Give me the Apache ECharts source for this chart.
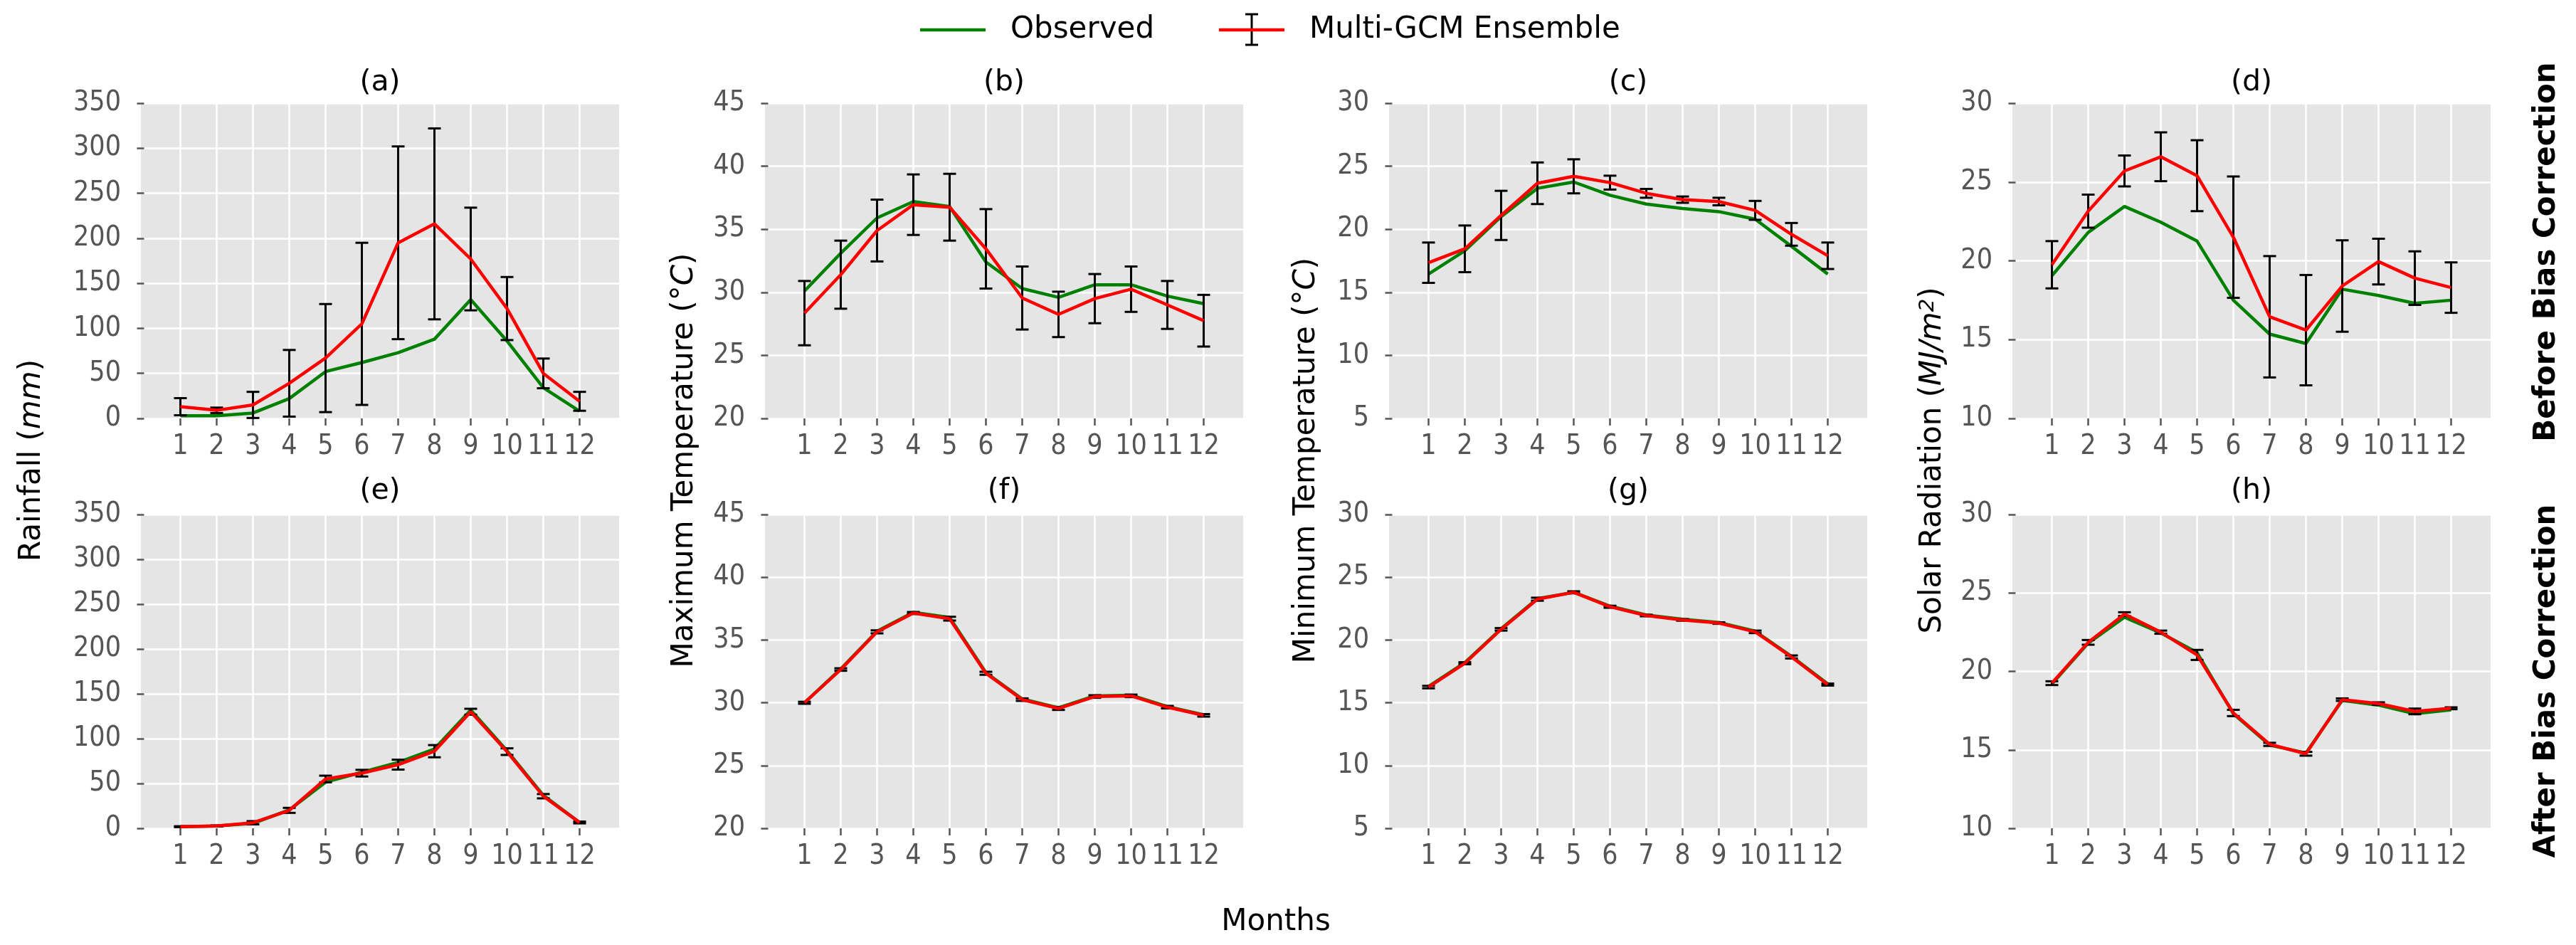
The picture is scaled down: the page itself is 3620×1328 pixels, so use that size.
<!DOCTYPE html>
<html>
<head>
<meta charset="utf-8">
<script src="https://cdn.jsdelivr.net/npm/echarts@6.0.0/dist/echarts.min.js"></script>
<style>
html,body{margin:0;padding:0;background:#ffffff;}
#chart{width:3620px;height:1328px;}
</style>
</head>
<body>
<div id="chart"></div>
<script>
// ---------------- data ----------------
const months = [1, 2, 3, 4, 5, 6, 7, 8, 9, 10, 11, 12];
const monthLabels = ['1', '2', '3', '4', '5', '6', '7', '8', '9', '10', '11', '12'];

// (a) Rainfall, before bias correction
const rainObsBefore = [3, 3, 6, 22, 52, 62, 73, 88, 132, 86, 34, 8];
const rainEnsBefore = [13, 9, 15, 39, 67, 105, 195, 216, 177, 122, 50, 19];
const rainSdBefore  = [9.5, 3, 14.5, 37, 60, 90, 107, 106, 57, 35, 16.5, 10.5];
// (b) Maximum temperature, before
const tmaxObsBefore = [30.1, 33.1, 35.9, 37.2, 36.8, 32.4, 30.3, 29.6, 30.6, 30.6, 29.7, 29.1];
const tmaxEnsBefore = [28.35, 31.4, 34.9, 36.95, 36.75, 33.45, 29.55, 28.25, 29.5, 30.25, 29.0, 27.75];
const tmaxSdBefore  = [2.55, 2.7, 2.45, 2.4, 2.65, 3.15, 2.5, 1.8, 1.95, 1.8, 1.9, 2.05];
// (c) Minimum temperature, before
const tminObsBefore = [16.45, 18.3, 21.0, 23.25, 23.75, 22.7, 22.0, 21.65, 21.4, 20.8, 18.65, 16.45];
const tminEnsBefore = [17.35, 18.45, 21.1, 23.65, 24.2, 23.7, 22.85, 22.35, 22.2, 21.5, 19.6, 17.9];
const tminSdBefore  = [1.6, 1.85, 1.95, 1.65, 1.35, 0.55, 0.35, 0.25, 0.3, 0.75, 0.9, 1.05];
// (d) Solar radiation, before
const solObsBefore = [19.05, 21.8, 23.45, 22.45, 21.25, 17.5, 15.35, 14.75, 18.2, 17.8, 17.3, 17.5];
const solEnsBefore = [19.75, 23.15, 25.7, 26.6, 25.4, 21.5, 16.45, 15.6, 18.4, 19.95, 18.9, 18.3];
const solSdBefore  = [1.5, 1.05, 0.98, 1.55, 2.25, 3.85, 3.85, 3.5, 2.9, 1.45, 1.7, 1.6];
// (e) Rainfall, after
const rainObsAfter = [1.8, 2.6, 5.5, 20.5, 51.5, 62.5, 73.5, 88.5, 132, 86.5, 36.8, 6.6];
const rainEnsAfter = [1.8, 2.6, 6.2, 20, 55, 61.5, 71, 86, 130, 85.5, 35.8, 6.5];
const rainSdAfter  = [0.5, 0.6, 1.8, 2.8, 3.7, 3.7, 5.5, 6.8, 3.3, 3.7, 2.4, 1.0];
// (f) Maximum temperature, after
const tmaxObsAfter = [30.0, 32.7, 35.7, 37.2, 36.8, 32.4, 30.3, 29.6, 30.55, 30.6, 29.7, 29.05];
const tmaxEnsAfter = [30.0, 32.65, 35.65, 37.15, 36.7, 32.35, 30.25, 29.55, 30.5, 30.55, 29.65, 29.0];
const tmaxSdAfter  = [0.08, 0.1, 0.12, 0.08, 0.15, 0.12, 0.1, 0.12, 0.1, 0.1, 0.1, 0.1];
// (g) Minimum temperature, after
const tminObsAfter = [16.3, 18.2, 20.9, 23.3, 23.8, 22.7, 22.0, 21.65, 21.4, 20.7, 18.7, 16.5];
const tminEnsAfter = [16.25, 18.15, 20.85, 23.25, 23.8, 22.65, 21.95, 21.6, 21.35, 20.65, 18.65, 16.45];
const tminSdAfter  = [0.1, 0.08, 0.1, 0.12, 0.08, 0.08, 0.06, 0.06, 0.06, 0.1, 0.12, 0.08];
// (h) Solar radiation, after
const solObsAfter = [19.2, 21.8, 23.45, 22.45, 21.2, 17.3, 15.3, 14.8, 18.15, 17.85, 17.3, 17.55];
const solEnsAfter = [19.25, 21.85, 23.65, 22.5, 21.05, 17.35, 15.35, 14.75, 18.2, 17.95, 17.45, 17.65];
const solSdAfter  = [0.12, 0.15, 0.12, 0.1, 0.32, 0.2, 0.1, 0.12, 0.08, 0.08, 0.18, 0.06];

// axis ranges / tick steps
const rainTicks = [0, 350, 50];
const tmaxTicks = [20, 45, 5];
const tminTicks = [5, 30, 5];
const solTicks  = [10, 30, 5];

const panelTitles = ['(a)', '(b)', '(c)', '(d)', '(e)', '(f)', '(g)', '(h)'];
const legendNames = ['Observed', 'Multi-GCM Ensemble'];

// ---------------- layout ----------------
const panels = [
  {obs: rainObsBefore, ens: rainEnsBefore, sd: rainSdBefore, ticks: rainTicks, col: 0, row: 0},
  {obs: tmaxObsBefore, ens: tmaxEnsBefore, sd: tmaxSdBefore, ticks: tmaxTicks, col: 1, row: 0},
  {obs: tminObsBefore, ens: tminEnsBefore, sd: tminSdBefore, ticks: tminTicks, col: 2, row: 0},
  {obs: solObsBefore,  ens: solEnsBefore,  sd: solSdBefore,  ticks: solTicks,  col: 3, row: 0},
  {obs: rainObsAfter,  ens: rainEnsAfter,  sd: rainSdAfter,  ticks: rainTicks, col: 0, row: 1},
  {obs: tmaxObsAfter,  ens: tmaxEnsAfter,  sd: tmaxSdAfter,  ticks: tmaxTicks, col: 1, row: 1},
  {obs: tminObsAfter,  ens: tminEnsAfter,  sd: tminSdAfter,  ticks: tminTicks, col: 2, row: 1},
  {obs: solObsAfter,   ens: solEnsAfter,   sd: solSdAfter,   ticks: solTicks,  col: 3, row: 1}
];
const gridLefts = [198, 1075, 1952, 2828];
const gridTops = [145, 723];
const gridHeights = [443, 441];
const gridW = 672;
const titleY = [116, 690];

const tickFont = "'DejaVu Sans Condensed', 'DejaVu Sans', sans-serif";
const mainFont = "'DejaVu Sans', sans-serif";
const GREEN = '#008000', RED = '#FF0000';

function renderErr(params, api) {
  const x = api.value(0), lo = api.value(1), hi = api.value(2);
  const a = api.coord([x, lo]), b = api.coord([x, hi]);
  const cw = 9;
  const st = {stroke: '#000000', lineWidth: 3};
  return {
    type: 'group',
    children: [
      {type: 'line', shape: {x1: a[0], y1: a[1], x2: b[0], y2: b[1]}, style: st},
      {type: 'line', shape: {x1: a[0] - cw, y1: a[1], x2: a[0] + cw, y2: a[1]}, style: st},
      {type: 'line', shape: {x1: b[0] - cw, y1: b[1], x2: b[0] + cw, y2: b[1]}, style: st}
    ]
  };
}

const grids = [], xAxes = [], yAxes = [], series = [];
panels.forEach((p, i) => {
  grids.push({
    left: gridLefts[p.col], top: gridTops[p.row], width: gridW, height: gridHeights[p.row],
    show: true, backgroundColor: '#E5E5E5', borderWidth: 0, containLabel: false, outerBoundsMode: 'none'
  });
  xAxes.push({
    type: 'value', gridIndex: i, min: -0.088, max: 13.088,
    axisLine: {show: false},
    axisTick: {show: true, customValues: months, length: 10, lineStyle: {color: '#555555', width: 2.5}},
    axisLabel: {customValues: months, margin: 20, color: '#555555', fontSize: 39, fontFamily: tickFont,
      formatter: v => monthLabels[months.indexOf(Math.round(v))] || ''},
    splitLine: {show: true, lineStyle: {color: '#FFFFFF', width: 2.5}}
  });
  yAxes.push({
    type: 'value', gridIndex: i, min: p.ticks[0], max: p.ticks[1], interval: p.ticks[2],
    axisLine: {show: false},
    axisTick: {show: true, length: 10, lineStyle: {color: '#555555', width: 2.5}},
    axisLabel: {margin: 28, color: '#555555', fontSize: 39, fontFamily: tickFont},
    splitLine: {show: true, lineStyle: {color: '#FFFFFF', width: 2.5}}
  });
  series.push({
    type: 'line', name: legendNames[0], xAxisIndex: i, yAxisIndex: i,
    data: months.map((m, k) => [m, p.obs[k]]),
    symbol: 'none', lineStyle: {color: GREEN, width: 4.5}, itemStyle: {color: GREEN}, z: 2
  });
  series.push({
    type: 'custom', name: legendNames[1] + ' error', xAxisIndex: i, yAxisIndex: i,
    data: months.map((m, k) => [m, p.ens[k] - p.sd[k], p.ens[k] + p.sd[k]]),
    encode: {x: 0, y: [1, 2]}, renderItem: renderErr, z: 3
  });
  series.push({
    type: 'line', name: legendNames[1], xAxisIndex: i, yAxisIndex: i,
    data: months.map((m, k) => [m, p.ens[k]]),
    symbol: 'none', lineStyle: {color: RED, width: 4.5}, itemStyle: {color: RED}, z: 4
  });
});

// ---------------- text / legend graphics ----------------
const graphics = [];
panels.forEach((p, i) => {
  graphics.push({
    type: 'text', x: gridLefts[p.col] + gridW / 2, y: titleY[p.row],
    style: {text: panelTitles[i], font: '41px ' + mainFont, fill: '#000', textAlign: 'center', textVerticalAlign: 'middle'}
  });
});
const ylab = [
  {x: 45,   text: 'Rainfall ({i|mm})'},
  {x: 962,  text: 'Maximum Temperature (°{i|C})'},
  {x: 1836, text: 'Minimum Temperature (°{i|C})'},
  {x: 2716, text: 'Solar Radiation ({i|MJ/m}{s|2})'}
];
ylab.forEach(l => {
  graphics.push({
    type: 'text', x: l.x, y: 647, rotation: Math.PI / 2,
    style: {
      text: l.text, font: '42px ' + mainFont, fill: '#000', textAlign: 'center', textVerticalAlign: 'middle',
      rich: {
        i: {fontStyle: 'italic', fontSize: 42, fontFamily: mainFont, fill: '#000'},
        s: {fontStyle: 'italic', fontSize: 29, fontFamily: mainFont, fill: '#000', verticalAlign: 'top'}
      }
    }
  });
});
graphics.push({type: 'text', x: 1793, y: 1296,
  style: {text: 'Months', font: '42px ' + mainFont, fill: '#000', textAlign: 'center', textVerticalAlign: 'middle'}});
graphics.push({type: 'text', x: 3579, y: 354, rotation: Math.PI / 2,
  style: {text: 'Before Bias Correction', font: 'bold 42px ' + mainFont, fill: '#000', textAlign: 'center', textVerticalAlign: 'middle'}});
graphics.push({type: 'text', x: 3579, y: 957, rotation: Math.PI / 2,
  style: {text: 'After Bias Correction', font: 'bold 42px ' + mainFont, fill: '#000', textAlign: 'center', textVerticalAlign: 'middle'}});
// legend
graphics.push({type: 'line', shape: {x1: 1293, y1: 42, x2: 1385, y2: 42}, style: {stroke: GREEN, lineWidth: 4.5}});
graphics.push({type: 'text', x: 1420, y: 42,
  style: {text: legendNames[0], font: '42px ' + mainFont, fill: '#000', textAlign: 'left', textVerticalAlign: 'middle'}});
graphics.push({type: 'line', shape: {x1: 1759, y1: 20, x2: 1759, y2: 63}, style: {stroke: '#000', lineWidth: 3}});
graphics.push({type: 'line', shape: {x1: 1750, y1: 20, x2: 1768, y2: 20}, style: {stroke: '#000', lineWidth: 3}});
graphics.push({type: 'line', shape: {x1: 1750, y1: 63, x2: 1768, y2: 63}, style: {stroke: '#000', lineWidth: 3}});
graphics.push({type: 'line', shape: {x1: 1713, y1: 42, x2: 1805, y2: 42}, style: {stroke: RED, lineWidth: 4.5}});
graphics.push({type: 'text', x: 1840, y: 42,
  style: {text: legendNames[1], font: '42px ' + mainFont, fill: '#000', textAlign: 'left', textVerticalAlign: 'middle'}});

const chart = echarts.init(document.getElementById('chart'), null, {renderer: 'canvas'});
chart.setOption({
  animation: false,
  backgroundColor: '#FFFFFF',
  grid: grids,
  xAxis: xAxes,
  yAxis: yAxes,
  series: series,
  graphic: {elements: graphics}
});
</script>
</body>
</html>
